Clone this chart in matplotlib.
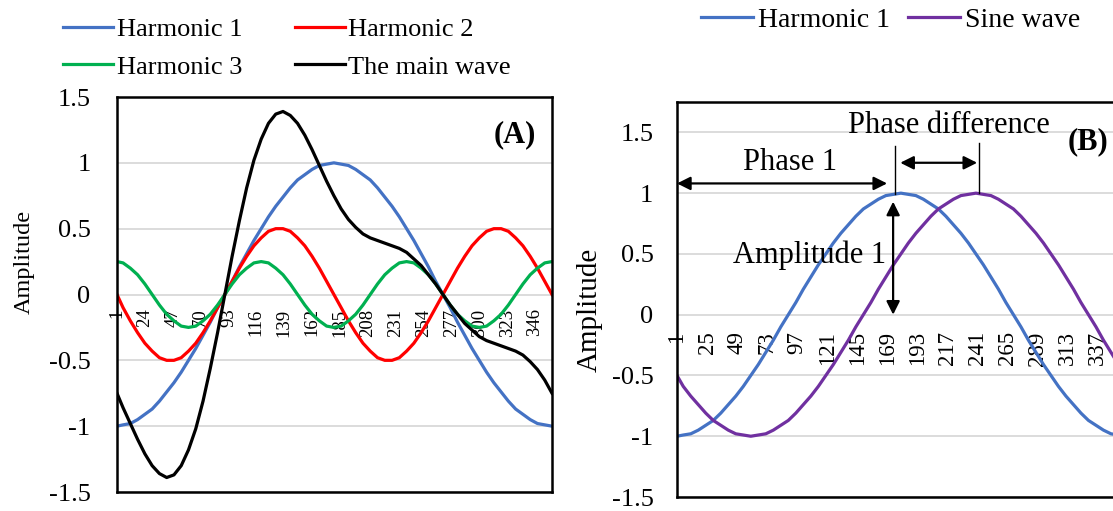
import matplotlib
matplotlib.use('Agg')
import matplotlib.pyplot as plt

plt.rcParams['font.family'] = ['Liberation Serif', 'DejaVu Serif']
plt.rcParams['axes.unicode_minus'] = False

# ---------------- data ----------------
categories = [1, 6, 12, 18, 24, 30, 36, 42, 48, 54, 60, 66, 72, 78, 84, 90, 96, 102, 108,
              114, 120, 126, 132, 138, 144, 150, 156, 162, 168, 174, 180, 186, 192, 198,
              204, 210, 216, 222, 228, 234, 240, 246, 252, 258, 264, 270, 276, 282, 288,
              294, 300, 306, 312, 318, 324, 330, 336, 342, 348, 354, 360]

harmonic1 = [-1.00, -0.99, -0.98, -0.95, -0.91, -0.87, -0.81, -0.74, -0.67, -0.59, -0.50,
             -0.41, -0.31, -0.21, -0.10, 0.00, 0.10, 0.21, 0.31, 0.41, 0.50, 0.59, 0.67,
             0.74, 0.81, 0.87, 0.91, 0.95, 0.98, 0.99, 1.00, 0.99, 0.98, 0.95, 0.91, 0.87,
             0.81, 0.74, 0.67, 0.59, 0.50, 0.41, 0.31, 0.21, 0.10, 0.00, -0.10, -0.21,
             -0.31, -0.41, -0.50, -0.59, -0.67, -0.74, -0.81, -0.87, -0.91, -0.95, -0.98,
             -0.99, -1.00]

harmonic2 = [0.00, -0.10, -0.20, -0.29, -0.37, -0.43, -0.48, -0.50, -0.50, -0.48, -0.43,
             -0.37, -0.29, -0.20, -0.10, 0.00, 0.10, 0.20, 0.29, 0.37, 0.43, 0.48, 0.50,
             0.50, 0.48, 0.43, 0.37, 0.29, 0.20, 0.10, 0.00, -0.10, -0.20, -0.29, -0.37,
             -0.43, -0.48, -0.50, -0.50, -0.48, -0.43, -0.37, -0.29, -0.20, -0.10, 0.00,
             0.10, 0.20, 0.29, 0.37, 0.43, 0.48, 0.50, 0.50, 0.48, 0.43, 0.37, 0.29, 0.20,
             0.10, 0.00]

harmonic3 = [0.25, 0.24, 0.20, 0.15, 0.08, 0.00, -0.08, -0.15, -0.20, -0.24, -0.25, -0.24,
             -0.20, -0.15, -0.08, 0.00, 0.08, 0.15, 0.20, 0.24,
             0.25, 0.24, 0.20, 0.15, 0.08, 0.00, -0.08, -0.15, -0.20, -0.24, -0.25, -0.24,
             -0.20, -0.15, -0.08, 0.00, 0.08, 0.15, 0.20, 0.24,
             0.25, 0.24, 0.20, 0.15, 0.08, 0.00, -0.08, -0.15, -0.20, -0.24, -0.25, -0.24,
             -0.20, -0.15, -0.08, 0.00, 0.08, 0.15, 0.20, 0.24, 0.25]

main_wave = [-0.75, -0.86, -0.98, -1.10, -1.21, -1.30, -1.36, -1.39, -1.37, -1.30, -1.18,
             -1.02, -0.81, -0.56, -0.29, 0.00, 0.29, 0.56, 0.81, 1.02, 1.18, 1.30, 1.37,
             1.39, 1.36, 1.30, 1.21, 1.10, 0.98, 0.86, 0.75, 0.65, 0.57, 0.51, 0.46, 0.43,
             0.41, 0.39, 0.37, 0.35, 0.32, 0.27, 0.22, 0.15, 0.08, 0.00, -0.08, -0.15,
             -0.22, -0.27, -0.32, -0.35, -0.37, -0.39, -0.41, -0.43, -0.46, -0.51, -0.57,
             -0.65, -0.75]

sine_wave = [-0.50, -0.59, -0.67, -0.74, -0.81, -0.87, -0.91, -0.95, -0.98, -0.99, -1.00,
             -0.99, -0.98, -0.95, -0.91, -0.87, -0.81, -0.74, -0.67, -0.59, -0.50, -0.41,
             -0.31, -0.21, -0.10, 0.00, 0.10, 0.21, 0.31, 0.41, 0.50, 0.59, 0.67, 0.74,
             0.81, 0.87, 0.91, 0.95, 0.98, 0.99, 1.00, 0.99, 0.98, 0.95, 0.91, 0.87, 0.81,
             0.74, 0.67, 0.59, 0.50, 0.41, 0.31, 0.21, 0.10, 0.00, -0.10, -0.21, -0.31,
             -0.41, -0.50]

xticks_a = [1, 24, 47, 70, 93, 116, 139, 162, 185, 208, 231, 254, 277, 300, 323, 346]
xticks_b = [1, 25, 49, 73, 97, 121, 145, 169, 193, 217, 241, 265, 289, 313, 337]
yticks = [-1.5, -1, -0.5, 0, 0.5, 1, 1.5]
ytick_labels = ['-1.5', '-1', '-0.5', '0', '0.5', '1', '1.5']

labels_a = ['Harmonic 1', 'Harmonic 2', 'Harmonic 3', 'The main wave']
labels_b = ['Harmonic 1', 'Sine wave']

BLUE, RED, GREEN, BLACK, PURPLE = '#4472C4', '#FF0000', '#00B050', '#000000', '#7030A0'

# ---------------- figure ----------------
W, H = 1113, 511
fig = plt.figure(figsize=(W / 100, H / 100), dpi=100)
axA = fig.add_axes([117 / W, (H - 492) / H, 435 / W, 395 / H])
axB = fig.add_axes([677 / W, (H - 497) / H, 449 / W, 395 / H])

LW = 2.3
for ax, ylim in ((axA, (-1.5, 1.5)), (axB, (-1.5, 1.75))):
    ax.set_xlim(1, 360)
    ax.set_ylim(*ylim)
    ax.set_yticks(yticks)
    ax.set_yticklabels(ytick_labels)
    ax.grid(axis='y', color='#D9D9D9', lw=1.3)
    ax.set_axisbelow(True)
    ax.tick_params(axis='x', bottom=False, labelbottom=False)
    ax.tick_params(axis='y', length=0, labelsize=19)
    for s in ax.spines.values():
        s.set_linewidth(1.8)
        s.set_color('black')

axA.tick_params(axis='y', pad=19)
axB.tick_params(axis='y', pad=17)

# Panel A lines
lA1, = axA.plot(categories, harmonic1, color=BLUE, lw=LW)
lA2, = axA.plot(categories, harmonic2, color=RED, lw=LW)
lA3, = axA.plot(categories, harmonic3, color=GREEN, lw=LW)
lA4, = axA.plot(categories, main_wave, color=BLACK, lw=LW)

# Panel B lines
lB1, = axB.plot(categories, harmonic1, color=BLUE, lw=LW)
lB2, = axB.plot(categories, sine_wave, color=PURPLE, lw=LW)

# category axes crossing at y = 0
secA = axA.secondary_xaxis(0, transform=axA.transData)
secA.set_xticks(xticks_a)
secA.set_xticklabels([str(t) for t in xticks_a], rotation=90, fontsize=13.5)
secA.tick_params(length=0, pad=10)
secA.spines['bottom'].set_visible(False)

secB = axB.secondary_xaxis(0, transform=axB.transData)
secB.set_xticks(xticks_b)
secB.set_xticklabels([str(t) for t in xticks_b], rotation=90, fontsize=16.5)
secB.tick_params(length=0, pad=12)
secB.spines['bottom'].set_visible(False)

# y labels
axA.set_ylabel('Amplitude', fontsize=17.5)
axA.yaxis.set_label_coords((35 - 117) / 435, (492 - 262) / 395)
axB.set_ylabel('Amplitude', fontsize=21)
axB.yaxis.set_label_coords((603 - 677) / 449, (497 - 310) / 395)

# panel tags
axA.text(329.5, 1.21, '(A)', fontsize=22, fontweight='bold', ha='center', va='center')
axB.text(329.8, 1.42, '(B)', fontsize=22, fontweight='bold', ha='center', va='center')

# legends
fig.legend([lA1, lA3, lA2, lA4], [labels_a[0], labels_a[2], labels_a[1], labels_a[3]],
           loc='center', bbox_to_anchor=(287 / W, 1 - 48 / H), ncol=2, frameon=False,
           fontsize=19, handlelength=1.9, handletextpad=0.13, columnspacing=2.0,
           labelspacing=0.55, borderpad=0.2)
fig.legend([lB1, lB2], labels_b, loc='center', bbox_to_anchor=(891 / W, 1 - 20 / H),
           ncol=2, frameon=False, fontsize=20, handlelength=1.87, handletextpad=0.18,
           columnspacing=0.65, borderpad=0.2)

# annotations in panel B
arrow = dict(arrowstyle='<|-|>', color='black', lw=1.6, mutation_scale=20,
             shrinkA=0, shrinkB=0)
axB.annotate('', xy=(169, 1.08), xytext=(1, 1.08), arrowprops=arrow)
axB.annotate('', xy=(241, 1.25), xytext=(179.5, 1.25), arrowprops=arrow)
axB.annotate('', xy=(173.8, 0.0), xytext=(173.8, 0.93), arrowprops=arrow)
axB.plot([175, 175], [0.99, 1.39], color='black', lw=1.0)
axB.plot([242.6, 242.6], [1.0, 1.41], color='black', lw=1.0)
axB.text(91.4, 1.25, 'Phase 1', fontsize=22, ha='center', va='center')
axB.text(218, 1.56, 'Phase difference', fontsize=22, ha='center', va='center')
axB.text(107, 0.49, 'Amplitude 1', fontsize=22, ha='center', va='center')

fig.savefig('out.png', dpi=100)
